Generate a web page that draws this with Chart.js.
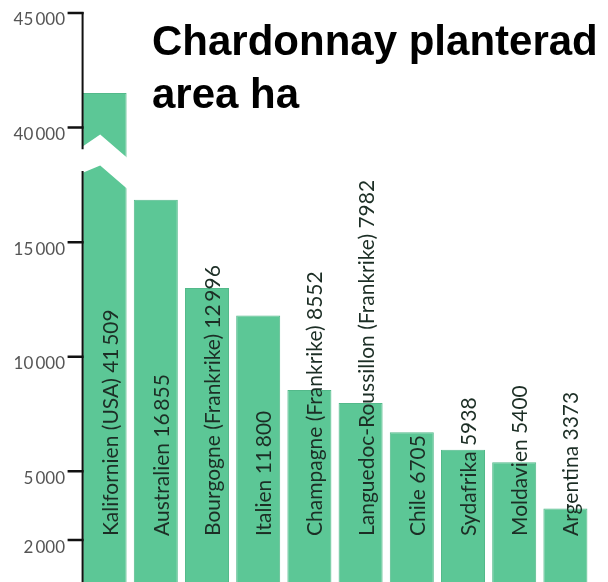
<!DOCTYPE html>
<html>
<head>
<meta charset="utf-8">
<script src="https://cdn.jsdelivr.net/npm/chart.js@4.4.1/dist/chart.umd.min.js"></script>
<style>
  html, body { margin: 0; padding: 0; background: #fff; }
  #wrap { position: relative; width: 608px; height: 582px; }
  #title {
    position: absolute; left: 152px; top: 14px;
    font: bold 42px "Liberation Sans", Arial, sans-serif;
    line-height: 53px; color: #000; white-space: nowrap;
  }
</style>
</head>
<body>
<div id="wrap">
  <canvas id="chart"></canvas>
  <div id="title">Chardonnay planterad<br>area ha</div>
</div>
<script>
// Chardonnay – planterad areal per region (ha)
const regions = ['Kalifornien (USA)', 'Australien', 'Bourgogne (Frankrike)', 'Italien',
  'Champagne (Frankrike)', 'Languedoc-Roussillon (Frankrike)', 'Chile', 'Sydafrika',
  'Moldavien', 'Argentina'];
const areaHa = [41509, 16855, 12996, 11800, 8552, 7982, 6705, 5938, 5400, 3373];
const tickValues = [2000, 5000, 10000, 15000, 40000, 45000];

// broken axis: everything above the cut is moved down by the gap
const CUT = 30000;
const GAP = 20000;
const toAxis = v => v > CUT ? v - GAP : v;

const fmtTick = v => String(v).replace(/(\d)(\d{3})$/, '$1\u2009$2');
const fmtValue = v => v >= 10000 ? String(v).replace(/(\d)(\d{3})$/, '$1\u2009$2') : String(v);

const barColor = '#5cc796';

const breakAxis = {
  id: 'breakAxis',
  afterDatasetsDraw(chart) {
    const { ctx, chartArea } = chart;
    const y = chart.scales.y;
    const bars = chart.getDatasetMeta(0).data;
    const b0 = bars[0];
    const L = b0.x - b0.width / 2, R = b0.x + b0.width / 2, A = L + b0.width * 0.4;
    const py = v => y.getPixelForValue(v);

    // white chevron cutting the tall bar
    ctx.save();
    ctx.fillStyle = '#fff';
    ctx.beginPath();
    ctx.moveTo(L - 4, py(19050));
    ctx.lineTo(A, py(19700));
    ctx.lineTo(R + 4, py(18550));
    ctx.lineTo(R + 4, py(17200));
    ctx.lineTo(A, py(18350));
    ctx.lineTo(L - 4, py(17950));
    ctx.closePath();
    ctx.fill();

    // axis line with a gap
    ctx.strokeStyle = '#111';
    ctx.lineWidth = 2;
    ctx.beginPath();
    ctx.moveTo(L, chartArea.top - 1);
    ctx.lineTo(L, py(19050));
    ctx.moveTo(L, py(18100));
    ctx.lineTo(L, chartArea.bottom);
    ctx.stroke();

    // tick marks
    ctx.lineWidth = 2.5;
    ctx.beginPath();
    tickValues.forEach(v => {
      const t = py(toAxis(v));
      ctx.moveTo(L - 15, t);
      ctx.lineTo(L + 1, t);
    });
    ctx.stroke();

    // labels written along the bars
    ctx.fillStyle = '#1c2e25';
    ctx.font = '21px Lato, "Open Sans", sans-serif';
    ctx.textAlign = 'left';
    ctx.textBaseline = 'alphabetic';
    bars.forEach((bar, i) => {
      ctx.save();
      ctx.translate(bar.x + 13, 536);
      ctx.rotate(-Math.PI / 2);
      ctx.fillText(regions[i] + ' ' + fmtValue(areaHa[i]), 0, 0);
      ctx.restore();
    });
    ctx.restore();
  }
};

new Chart(document.getElementById('chart'), {
  type: 'bar',
  data: {
    labels: regions,
    datasets: [{
      data: areaHa.map(toAxis),
      backgroundColor: barColor,
      borderColor: '#53b98a',
      borderWidth: 1,
      barPercentage: 0.86,
      categoryPercentage: 1
    }]
  },
  options: {
    responsive: true, maintainAspectRatio: false,
    animation: false,
    layout: { padding: { top: 13, right: 17, bottom: 0, left: 0 } },
    plugins: { legend: { display: false }, tooltip: { enabled: false } },
    scales: {
      x: { display: false },
      y: {
        min: 170, max: 25000,
        afterBuildTicks(s) { s.ticks = tickValues.map(v => ({ value: toAxis(v) })); },
        afterFit(s) { s.width = 79; s.paddingTop = 0; s.paddingBottom = 0; },
        grid: { drawOnChartArea: false, drawTicks: false },
        border: { display: false },
        ticks: {
          autoSkip: false,
          padding: 14,
          labelOffset: 7,
          color: '#555',
          font: { family: 'Lato', size: 17 },
          callback: (val, i) => fmtTick(tickValues[i])
        }
      }
    }
  },
  plugins: [breakAxis]
});
</script>
</body>
</html>
